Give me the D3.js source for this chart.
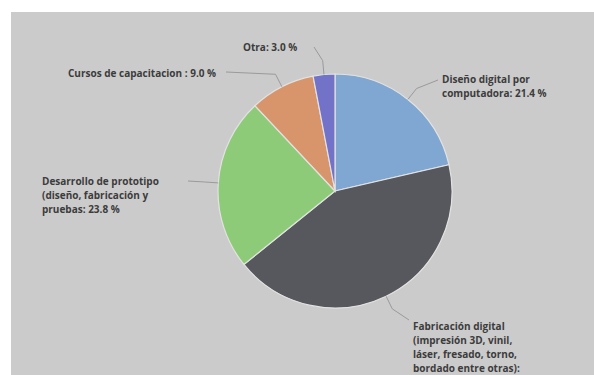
<!DOCTYPE html>
<html><head><meta charset="utf-8">
<script src="https://cdn.jsdelivr.net/npm/d3@7"></script>
<style>html,body{margin:0;padding:0;background:#fff;}svg{display:block;}</style>
</head><body>
<svg id="c" width="594" height="375"></svg>
<script>
const categories = [
  "Diseño digital por computadora",
  "Fabricación digital (impresión 3D, vinil, láser, fresado, torno, bordado entre otras)",
  "Desarrollo de prototipo (diseño, fabricación y pruebas",
  "Cursos de capacitacion ",
  "Otra"
];
const values = [21.4, 42.8, 23.8, 9.0, 3.0];
const labelLines = [
  ["Diseño digital por", "computadora: 21.4 %"],
  ["Fabricación digital", "(impresión 3D, vinil,", "láser, fresado, torno,", "bordado entre otras):"],
  ["Desarrollo de prototipo", "(diseño, fabricación y", "pruebas: 23.8 %"],
  ["Cursos de capacitacion : 9.0 %"],
  ["Otra: 3.0 %"]
];
const colors = ["#80a7d2", "#57585d", "#8dcb78", "#d8956b", "#7272c9"];

// layout
const cx = 335, cy = 191, R = 117;
const labelPos = [
  {x: 442, y: 79, lx: 438, ly: 80},
  {x: 413, y: 326, lx: 409, ly: 320},
  {x: 42, y: 181, lx: 188, ly: 181},
  {x: 68, y: 73, lx: 226, ly: 72},
  {x: 243, y: 47, lx: 314, ly: 47}
];

const svg = d3.select("#c");
svg.append("rect").attr("x", 11).attr("y", 12).attr("width", 594 - 11).attr("height", 375 - 12).attr("fill", "#cbcbcb");

const pie = d3.pie().sort(null).value(d => d)(values);
const arc = d3.arc().innerRadius(0).outerRadius(R);
const g = svg.append("g").attr("transform", `translate(${cx},${cy})`);
g.selectAll("path").data(pie).join("path")
  .attr("d", arc)
  .attr("fill", (d, i) => colors[i])
  .attr("stroke", "#e2e2e2").attr("stroke-width", 1.2);

const edge = d3.arc().innerRadius(R).outerRadius(R);
const edge2 = d3.arc().innerRadius(R + 14).outerRadius(R + 14);
pie.forEach((d, i) => {
  const p = edge.centroid(d), q = edge2.centroid(d);
  const lp = labelPos[i];
  svg.append("polyline")
    .attr("points", [[cx + p[0], cy + p[1]], [cx + q[0], cy + q[1]], [lp.lx, lp.ly]].map(a => a.join(",")).join(" "))
    .attr("fill", "none").attr("stroke", "#9a9a9a").attr("stroke-width", 1);
  const t = svg.append("text")
    .attr("x", lp.x).attr("y", lp.y)
    .attr("font-family", "'Open Sans', sans-serif")
    .attr("font-weight", "bold").attr("font-size", 10)
    .attr("fill", "#3c3c3c");
  labelLines[i].forEach((s, k) => {
    t.append("tspan").attr("x", lp.x).attr("y", lp.y + k * 14).attr("dy", "0.35em").text(s);
  });
});
</script>
</body></html>
